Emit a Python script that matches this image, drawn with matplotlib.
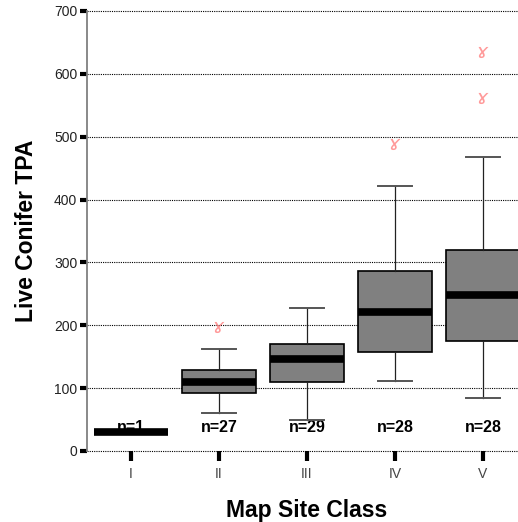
import matplotlib
matplotlib.use("Agg")
import matplotlib.pyplot as plt

plt.rcParams['font.family'] = ['Liberation Sans', 'DejaVu Sans']

# Summary statistics per map site class
classes = ["I", "II", "III", "IV", "V"]
counts = [1, 27, 29, 28, 28]
medians = [30, 110, 147, 221, 248]
q1 = [30, 92, 109, 158, 175]
q3 = [30, 129, 170, 287, 319]
whisker_low = [30, 60, 49, 112, 85]
whisker_high = [30, 163, 228, 422, 468]
outliers = [[], [198], [], [489], [562, 635]]

stats = []
for i, c in enumerate(classes):
    stats.append(dict(label=c, med=medians[i], q1=q1[i], q3=q3[i],
                      whislo=whisker_low[i], whishi=whisker_high[i],
                      fliers=outliers[i]))

fig = plt.figure(figsize=(5.18, 5.22), dpi=100)
ax = fig.add_axes([87 / 518, 1 - 451 / 522, 1 - 87 / 518, 440 / 522])

positions = list(range(1, len(classes) + 1))
ax.bxp(stats, positions=positions, widths=0.85, capwidths=0.39,
       patch_artist=True,
       boxprops=dict(facecolor="#808080", edgecolor="black", linewidth=1.2),
       medianprops=dict(color="black", linewidth=5.5, solid_capstyle="butt"),
       whiskerprops=dict(color="#222222", linewidth=0.9),
       capprops=dict(color="#555555", linewidth=1.4),
       flierprops=dict(marker="$ɤ$", markersize=8, markeredgecolor="none",
                       markerfacecolor="#ff7070", alpha=0.7),
       zorder=3)

# Sample sizes under each box
for p, n in zip(positions, counts):
    ax.text(p, 37, f"n={n}", ha="center", va="center", fontsize=11.5,
            fontweight="bold", zorder=2)

ax.set_xlim(0.5, 5.398)
ax.set_ylim(0, 700)
ax.set_yticks(range(0, 701, 100))
ax.set_xticks(positions)
ax.set_xticklabels(classes)

ax.grid(axis="y", color="black", linestyle=(0, (1, 1)), linewidth=0.8, zorder=1)
ax.set_axisbelow(True)
for gl in ax.get_ygridlines():
    gl.set_clip_on(False)

for side in ("top", "right", "bottom"):
    ax.spines[side].set_visible(False)
ax.spines["left"].set_color("#808080")
ax.spines["left"].set_linewidth(1.3)

ax.tick_params(axis="y", length=5, width=3, color="black", pad=2,
               labelsize=10, labelcolor="#222222")
ax.tick_params(axis="x", length=7.5, width=3, color="black", pad=4,
               labelsize=10, labelcolor="#444444")

ax.set_ylabel("Live Conifer TPA", fontsize=16.5, fontweight="bold")
ax.yaxis.label.set_va("center")
ax.yaxis.set_label_coords(-60 / 431, 0.5)
ax.set_xlabel("Map Site Class", fontsize=16.5, fontweight="bold")
ax.xaxis.label.set_va("center")
ax.xaxis.set_label_coords(2.5 / 4.898, -60 / 440)

fig.savefig("out.png", dpi=100)
